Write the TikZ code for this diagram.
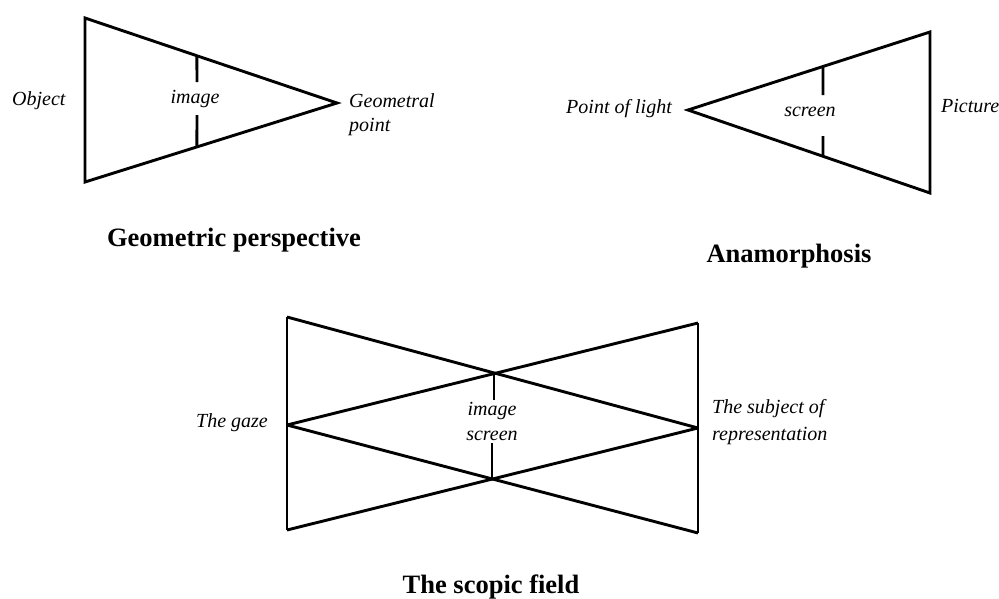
\documentclass[tikz,border=0pt]{standalone}
\usepackage{fontspec}
\setmainfont{Liberation Serif}
\usetikzlibrary{calc}
\begin{document}
\begin{tikzpicture}[x=1pt,y=-1pt,
  ln/.style={line width=2.9pt,line join=miter},
  lbl/.style={font=\fontsize{20}{23}\selectfont\itshape,inner sep=0pt},
  ttl/.style={font=\fontsize{26.5}{30}\selectfont\bfseries,inner sep=0pt}]
\useasboundingbox (0,0) rectangle (999,598);
% --- Geometric perspective
\coordinate (A1) at (85,18);
\coordinate (B1) at (85,182);
\coordinate (C1) at (337,103);
\draw[ln] (A1) -- (B1) -- (C1) -- cycle;
\coordinate (T1a) at ($(A1)!0.444!(C1)$);
\coordinate (T1b) at (197,82);
\coordinate (T1c) at (197,115);
\coordinate (T1d) at ($(B1)!0.444!(C1)$);
\draw[ln] (T1a) -- (T1b);
\draw[ln] (T1c) -- (T1d);
\node[lbl,anchor=base west] (obj) at (12,105) {Object};
\node[lbl,anchor=base] (img1) at (195,103) {image};
\node[lbl,anchor=base west] (geo1) at (349,107) {Geometral};
\node[lbl,anchor=base west] (geo2) at (349,131) {point};
\node[ttl,anchor=base] (t1) at (234,246) {Geometric perspective};
% --- Anamorphosis
\coordinate (A2) at (688,110);
\coordinate (B2) at (930,32);
\coordinate (C2) at (930,193);
\draw[ln] (A2) -- (B2) -- (C2) -- cycle;
\coordinate (T2a) at ($(A2)!0.558!(B2)$);
\coordinate (T2b) at (823,95);
\coordinate (T2c) at (823,136);
\coordinate (T2d) at ($(A2)!0.558!(C2)$);
\draw[ln] (T2a) -- (T2b);
\draw[ln] (T2c) -- (T2d);
\node[lbl,anchor=base east] (pol) at (672,113) {Point of light};
\node[lbl,anchor=base] (scr2) at (810,116) {screen};
\node[lbl,anchor=base west] (pic) at (941,112) {Picture};
\node[ttl,anchor=base] (t2) at (789,262) {Anamorphosis};
% --- The scopic field
\coordinate (LT) at (287,317);
\coordinate (LM) at (287,425);
\coordinate (LB) at (287,530);
\coordinate (RT) at (698,323);
\coordinate (RM) at (698,428);
\coordinate (RB) at (698,533);
\draw[ln] (LT) -- (LB);
\draw[ln] (RT) -- (RB);
\draw[ln] (LT) -- (RM);
\draw[ln] (LM) -- (RT);
\draw[ln] (LM) -- (RB);
\draw[ln] (LB) -- (RM);
\coordinate (X1) at (494,373);
\coordinate (X1b) at (494,400);
\coordinate (X2) at (492,479);
\coordinate (X2b) at (492,443);
\draw[ln] (X1) -- (X1b);
\draw[ln] (X2b) -- (X2);
\node[lbl,anchor=base] (img3) at (492,415) {image};
\node[lbl,anchor=base] (scr3) at (492,440) {screen};
\node[lbl,anchor=base east] (gaze) at (268,427) {The gaze};
\node[lbl,anchor=base west] (subj1) at (712,413) {The subject of};
\node[lbl,anchor=base west] (subj2) at (712,440) {representation};
\node[ttl,anchor=base] (t3) at (491,593) {The scopic field};
\end{tikzpicture}
\end{document}
